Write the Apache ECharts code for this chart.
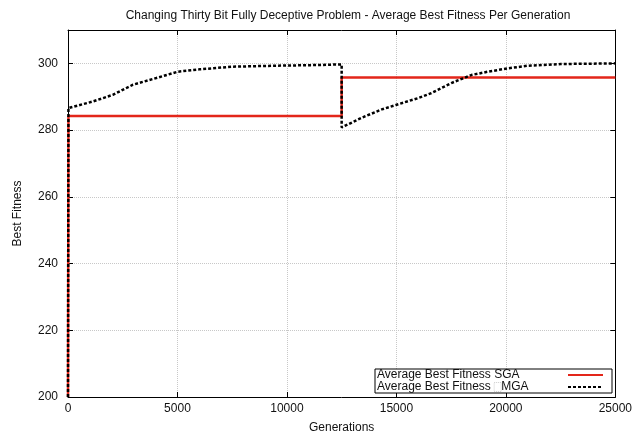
<!DOCTYPE html>
<html>
<head>
<meta charset="utf-8">
<script src="https://cdn.jsdelivr.net/npm/echarts@6/dist/echarts.min.js"></script>
<style>
html,body{margin:0;padding:0;background:#fff;}
#chart{width:635px;height:439px;}
</style>
</head>
<body>
<div id="chart"></div>
<script>
const titleText = 'Changing Thirty Bit Fully Deceptive Problem - Average Best Fitness Per Generation';
const seriesNames = ['Average Best Fitness SGA', 'Average Best Fitness MGA'];

const sgaGen = [0, 20, 12500, 12500, 25000];
const sgaFit = [200, 284.2, 284.2, 295.8, 295.8];

const mgaGen = [0, 20, 1150, 2060, 2970, 4030, 5010, 6000, 7510, 9490, 11450, 12500, 12500, 13420, 14330, 15010, 16000, 16600, 17510, 18420, 19180, 20090, 21000, 22510, 25000];
const mgaFit = [200, 286.6, 288.6, 290.6, 293.6, 295.6, 297.5, 298.2, 299.0, 299.3, 299.5, 299.7, 280.8, 283.7, 286.2, 287.6, 289.6, 291.1, 294.1, 296.5, 297.5, 298.5, 299.3, 299.8, 300.0];

const xTicks = [0, 5000, 10000, 15000, 20000, 25000];
const yTicks = [200, 220, 240, 260, 280, 300];

const FONT = '"Liberation Sans", Arial, Helvetica, sans-serif';
const chart = echarts.init(document.getElementById('chart'), null, {renderer: 'canvas'});

const pairs = (xs, ys) => xs.map((x, i) => [x, ys[i]]);

// text measuring for legend text block padding
const mctx = document.createElement('canvas').getContext('2d');
mctx.font = '12px ' + FONT;
const measure = s => mctx.measureText(s).width;
const LEG_TEXT_W = 186;
const MGA_A = 'Average Best Fitness ', MGA_B = 'MGA', BOX_W = 7;
const spacer1 = LEG_TEXT_W - measure(seriesNames[0]);
const spacer2 = LEG_TEXT_W - measure(MGA_A) - BOX_W - measure(MGA_B);

const xBase = {
  type: 'value', min: xTicks[0], max: xTicks[xTicks.length - 1], interval: xTicks[1] - xTicks[0],
  axisLine: {show: true, onZero: false, lineStyle: {color: '#000', width: 1}},
  axisTick: {show: true, inside: true, length: 5, lineStyle: {color: '#000'}},
};
const yBase = {
  type: 'value', min: yTicks[0], max: 310, interval: yTicks[1] - yTicks[0],
  axisLine: {show: true, onZero: false, lineStyle: {color: '#000', width: 1}},
  axisTick: {show: true, inside: true, length: 5, lineStyle: {color: '#000'}},
};

chart.setOption({
  animation: false,
  backgroundColor: '#fff',
  title: {
    text: titleText, left: 343, textAlign: 'center', top: 5,
    textStyle: {fontFamily: FONT, fontSize: 12, fontWeight: 'normal', color: '#111'}
  },
  grid: {left: 68, right: 17, top: 30, bottom: 39, containLabel: false},
  legend: {
    data: seriesNames,
    orient: 'vertical', left: 375, top: 369,
    align: 'right',
    padding: [0, 8, 0, 2], itemGap: 0,
    itemWidth: 35, itemHeight: 12,
    backgroundColor: '#fff', borderColor: '#000', borderWidth: 1, borderRadius: 0,
    itemStyle: {opacity: 0},
    formatter: function (name) {
      if (name === seriesNames[1]) {
        return '{t|' + MGA_A + '}{b| }{t|' + MGA_B + '}{s2| }';
      }
      return '{t|' + name + '}{s1| }';
    },
    textStyle: {
      fontFamily: FONT, fontSize: 12, color: '#111', lineHeight: 12,
      rich: {
        t: {fontFamily: FONT, fontSize: 12, color: '#111', lineHeight: 12},
        b: {width: BOX_W, height: 9, borderColor: '#ccc', borderWidth: 1, borderType: 'dotted', lineHeight: 12},
        s1: {width: Math.max(0, spacer1), lineHeight: 12},
        s2: {width: Math.max(0, spacer2), lineHeight: 12}
      }
    }
  },
  xAxis: [
    Object.assign({}, xBase, {
      position: 'bottom',
      name: 'Generations', nameLocation: 'middle', nameGap: 25,
      nameTextStyle: {fontFamily: FONT, fontSize: 12, color: '#111'},
      axisLabel: {show: true, margin: 6, fontFamily: FONT, fontSize: 12, color: '#111', formatter: v => String(v)},
      splitLine: {show: true, lineStyle: {color: '#c8c8c8', type: 'dotted', width: 1}}
    }),
    Object.assign({}, xBase, {
      position: 'top', axisLabel: {show: false}, splitLine: {show: false}
    })
  ],
  yAxis: [
    Object.assign({}, yBase, {
      position: 'left',
      name: 'Best Fitness', nameLocation: 'middle', nameGap: 44, nameRotate: 90,
      nameTextStyle: {fontFamily: FONT, fontSize: 12, color: '#111'},
      axisLabel: {
        show: true, margin: 10, fontFamily: FONT, fontSize: 12, color: '#111',
        formatter: v => (yTicks.indexOf(v) >= 0 ? String(v) : '')
      },
      splitLine: {show: true, lineStyle: {color: '#c8c8c8', type: 'dotted', width: 1}}
    }),
    Object.assign({}, yBase, {
      position: 'right', axisLabel: {show: false}, splitLine: {show: false}
    })
  ],
  series: [
    {
      name: seriesNames[0], type: 'line', xAxisIndex: 0, yAxisIndex: 0,
      data: pairs(sgaGen, sgaFit), symbol: 'none', smooth: false, z: 3,
      lineStyle: {color: '#e3261a', width: 2.5, type: 'solid'},
      itemStyle: {color: '#e3261a'}
    },
    {
      name: seriesNames[1], type: 'line', xAxisIndex: 0, yAxisIndex: 0,
      data: pairs(mgaGen, mgaFit), symbol: 'none', smooth: false, z: 4,
      lineStyle: {color: '#000', width: 2.5, type: [3, 2]},
      itemStyle: {color: '#000'}
    }
  ]
});
</script>
</body>
</html>
